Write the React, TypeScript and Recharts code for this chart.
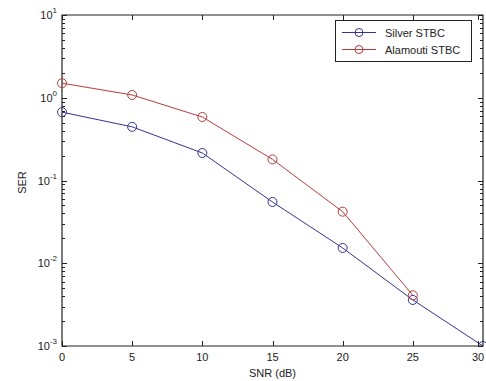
import { LineChart, Line, XAxis, YAxis, ReferenceArea } from 'recharts'

const snr = [0, 5, 10, 15, 20, 25, 30]
const silver = [0.67, 0.445, 0.215, 0.055, 0.0153, 0.0036, 0.001]
const alamouti = [1.5, 1.08, 0.585, 0.18, 0.042, 0.0041, null]
const xTicks = [0, 5, 10, 15, 20, 25, 30]
const decades = [-3, -2, -1, 0]

const BLUE = '#34348f'
const RED = '#b83c3c'
const AXIS = '#222'
const FONT = '"Liberation Sans", Arial, sans-serif'

// plot box comes from these margins / axis sizes
const W = 486
const H = 381
const M = { top: 15, right: 3, bottom: 0, left: 0 }
const Y_W = 62
const X_H = 35
const PLOT_W = W - M.left - M.right - Y_W
const PLOT_H = H - M.top - M.bottom - X_H

const yTicks: number[] = []
decades.forEach((d) => {
  for (let k = 1; k <= 9; k++) yTicks.push(Number((k * Math.pow(10, d)).toPrecision(3)))
})
yTicks.push(10)

const data = snr.map((x, i) => ({ snr: x, silver: silver[i], alamouti: alamouti[i] }))

function isMajor(v: number) {
  const e = Math.log10(v)
  return Math.abs(e - Math.round(e)) < 1e-6
}

// inward ticks on both sides, MATLAB style
function YTick({ x, y, payload }: any) {
  const major = isMajor(payload.value)
  const exp = Math.round(Math.log10(payload.value))
  const len = major ? 5 : 3
  const xl = Number(x)
  const yy = Math.round(Number(y)) + 0.5
  return (
    <g>
      <path d={`M${xl},${yy}h${len}`} stroke={AXIS} strokeWidth={1} fill="none" />
      <path d={`M${xl + PLOT_W},${yy}h${-len}`} stroke={AXIS} strokeWidth={1} fill="none" />
      {major && (
        <text x={x - 5} y={y + 4} textAnchor="end" fontSize={11} fill="#222" fontFamily={FONT}>
          10
          <tspan dy={-6} fontSize={8}>{exp}</tspan>
        </text>
      )}
    </g>
  )
}

function XTick({ x, y, payload }: any) {
  const xx = Math.round(Number(x)) + 0.5
  return (
    <g>
      <path d={`M${xx},${y}v-5`} stroke={AXIS} strokeWidth={1} fill="none" />
      <path d={`M${xx},${y - PLOT_H}v5`} stroke={AXIS} strokeWidth={1} fill="none" />
      <text x={x} y={y + 15} textAnchor="middle" fontSize={11} fill="#222" fontFamily={FONT}>
        {payload.value}
      </text>
    </g>
  )
}

function YLabel({ viewBox }: any) {
  const cx = viewBox.x + 22
  const cy = viewBox.y + viewBox.height / 2 + 2
  return (
    <text x={cx} y={cy} transform={`rotate(-90 ${cx} ${cy})`} textAnchor="middle" dominantBaseline="central" fontSize={11} fill="#222" fontFamily={FONT}>
      SER
    </text>
  )
}

function LegendBox() {
  const rows = [
    { name: 'Silver STBC', color: BLUE },
    { name: 'Alamouti STBC', color: RED },
  ]
  return (
    <svg width={137} height={42} style={{ position: 'absolute', left: 335, top: 20, display: 'block' }}>
      <rect x={0.5} y={0.5} width={136} height={41} fill="#fff" stroke={AXIS} />
      {rows.map((r, i) => {
        const cy = 12.5 + i * 17
        return (
          <g key={r.name}>
            <line x1={7} x2={41} y1={cy} y2={cy} stroke={r.color} />
            <circle cx={24} cy={cy} r={4} fill="none" stroke={r.color} />
            <text x={50} y={cy + 4} fontSize={11} fill="#222" fontFamily={FONT}>
              {r.name}
            </text>
          </g>
        )
      })}
    </svg>
  )
}

export default function App() {
  return (
    <div style={{ position: 'absolute', left: 0, top: 0, width: W, height: H, background: '#fff' }}>
      <LineChart width={W} height={H} data={data} margin={M}>
        <XAxis
          dataKey="snr"
          type="number"
          domain={[0, 30]}
          ticks={xTicks}
          height={X_H}
          axisLine={false}
          tickLine={false}
          tickSize={0}
          tickMargin={0}
          tick={<XTick />}
          label={{ value: 'SNR (dB)', position: 'insideBottom', offset: 4, fontSize: 11, fill: '#222', fontFamily: FONT }}
        />
        <YAxis
          scale="log"
          type="number"
          domain={[0.001, 10]}
          allowDataOverflow
          ticks={yTicks}
          interval={0}
          width={Y_W}
          axisLine={false}
          tickLine={false}
          tickSize={0}
          tickMargin={0}
          tick={<YTick />}
          label={<YLabel />}
        />
        <ReferenceArea x1={0} x2={30} y1={0.001} y2={10} fill="none" stroke={AXIS} strokeWidth={1.2} ifOverflow="visible" />
        <Line
          dataKey="silver"
          stroke={BLUE}
          strokeWidth={1}
          dot={{ r: 4.5, fill: 'none', stroke: BLUE, strokeWidth: 1 }}
          isAnimationActive={false}
        />
        <Line
          dataKey="alamouti"
          stroke={RED}
          strokeWidth={1}
          dot={{ r: 4.5, fill: 'none', stroke: RED, strokeWidth: 1 }}
          isAnimationActive={false}
        />
      </LineChart>
      <LegendBox />
    </div>
  )
}
